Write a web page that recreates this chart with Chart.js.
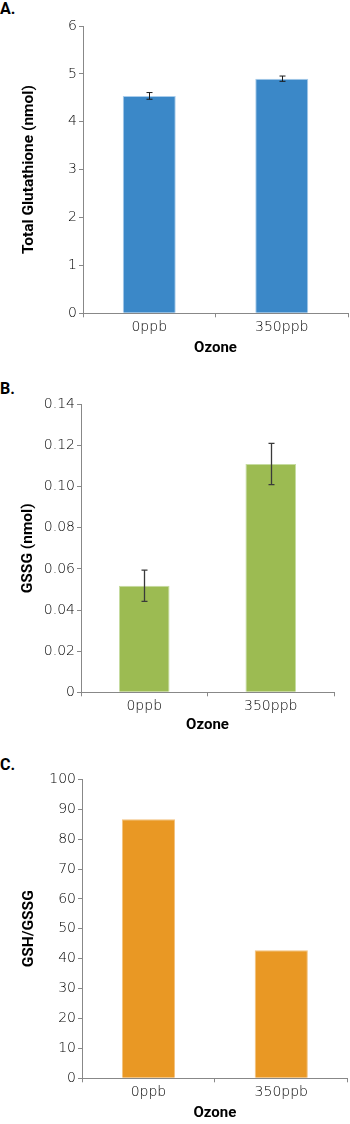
<!DOCTYPE html>
<html>
<head>
<meta charset="utf-8">
<script src="https://cdn.jsdelivr.net/npm/chart.js@4/dist/chart.umd.min.js"></script>
<style>
  html, body { margin: 0; padding: 0; background: #fff; }
  body { width: 350px; height: 1124px; position: relative; overflow: hidden; }
  .panel { position: absolute; left: 0; width: 350px; }
  .lbl { position: absolute; left: 0; font-family: 'Roboto', 'Liberation Sans', sans-serif; font-weight: bold; font-size: 16px; line-height: 17px; color: #000; }
</style>
</head>
<body>
<div class="lbl" style="top:0px">A.</div>
<div class="lbl" style="top:380px">B.</div>
<div class="lbl" style="top:756px">C.</div>
<div class="panel" style="top:0px;height:360px"><canvas id="cA"></canvas></div>
<div class="panel" style="top:360px;height:380px"><canvas id="cB"></canvas></div>
<div class="panel" style="top:740px;height:384px"><canvas id="cC"></canvas></div>
<script>
// ---- data ----
const categories = ['0ppb', '350ppb'];
const xAxisTitle = 'Ozone';

const totalGlutathione = [4.54, 4.90];
const totalGlutathioneErr = [0.07, 0.055];
const ticksA = ['0', '1', '2', '3', '4', '5', '6'];

const gssg = [0.0518, 0.111];
const gssgErr = [0.0076, 0.010];
const ticksB = ['0', '0.02', '0.04', '0.06', '0.08', '0.10', '0.12', '0.14'];

const gshGssgRatio = [86.6, 42.8];
const ticksC = ['0', '10', '20', '30', '40', '50', '60', '70', '80', '90', '100'];

// ---- styling ----
const boldFamily = "'Roboto', 'Liberation Sans', sans-serif";
const tickFamily = "'DejaVu Sans', sans-serif";

const errorBarPlugin = {
  id: 'errorBars',
  afterDatasetsDraw(chart, args, opts) {
    const errs = opts.errors;
    if (!errs) return;
    const ctx = chart.ctx;
    const meta = chart.getDatasetMeta(0);
    const yScale = chart.scales.y;
    const vals = chart.data.datasets[0].data;
    ctx.save();
    ctx.strokeStyle = opts.color || '#222';
    ctx.lineWidth = opts.width || 1;
    meta.data.forEach((bar, i) => {
      const x = Math.round(bar.x) + 0.5;
      const yt = yScale.getPixelForValue(vals[i] + errs[i]);
      const yb = yScale.getPixelForValue(vals[i] - errs[i]);
      const cap = 3;
      ctx.beginPath();
      ctx.moveTo(x, yt); ctx.lineTo(x, yb);
      ctx.moveTo(x - cap, yt); ctx.lineTo(x + cap, yt);
      ctx.moveTo(x - cap, yb); ctx.lineTo(x + cap, yb);
      ctx.stroke();
    });
    ctx.restore();
  }
};

function makeChart(id, p) {
  return new Chart(document.getElementById(id), {
    type: 'bar',
    data: {
      labels: categories,
      datasets: [{
        data: p.values,
        backgroundColor: p.color,
        borderColor: p.border,
        borderWidth: { top: 1, left: 1, right: 1, bottom: 0 },
        borderSkipped: 'bottom',
        categoryPercentage: 1,
        barPercentage: 0.4
      }]
    },
    options: {
      responsive: true,
      maintainAspectRatio: false,
      animation: false,
      events: [],
      layout: { padding: { top: p.top, right: p.right, left: 0, bottom: 0 } },
      plugins: {
        legend: { display: false },
        tooltip: { enabled: false },
        errorBars: { errors: p.errors, color: p.errColor, width: p.errWidth }
      },
      scales: {
        x: {
          grid: { display: true, drawOnChartArea: false, offset: true, tickLength: 4, color: '#888', tickColor: '#888' },
          border: { display: true, color: '#888', width: 1 },
          ticks: { color: '#000', padding: 2, font: { family: tickFamily, size: 14, weight: 300 } },
          title: { display: true, text: xAxisTitle, color: '#000', padding: { top: 0, bottom: p.xTitlePad }, font: { family: boldFamily, size: 15, weight: 'bold' } },
          afterFit(s) { s.height = p.xHeight; }
        },
        y: {
          min: 0,
          max: p.max,
          grid: { display: true, drawOnChartArea: false, tickLength: 4, color: '#888', tickColor: '#888' },
          border: { display: true, color: '#888', width: 1 },
          ticks: {
            stepSize: p.step,
            color: '#000',
            padding: 2,
            font: { family: tickFamily, size: 14, weight: 300 },
            callback: (v, i) => p.tickLabels[i]
          },
          title: { display: true, text: p.yTitle, color: '#000', padding: { top: p.yTitlePad, bottom: 0 }, font: { family: boldFamily, size: 15.5, weight: 'bold' } },
          afterFit(s) { s.width = p.yWidth; }
        }
      }
    },
    plugins: [errorBarPlugin]
  });
}

makeChart('cA', {
  values: totalGlutathione, errors: totalGlutathioneErr, errColor: '#1a1a1a', errWidth: 1,
  color: '#3b88c8', border: '#a9cdec',
  max: 6, step: 1, tickLabels: ticksA, yTitle: 'Total Glutathione (nmol)',
  top: 26, right: 2, yWidth: 83, xHeight: 46.7, xTitlePad: 3, yTitlePad: 20
});

makeChart('cB', {
  values: gssg, errors: gssgErr, errColor: '#3a3a3a', errWidth: 1.3,
  color: '#9cbb52', border: '#c6dca0',
  max: 0.14, step: 0.02, tickLabels: ticksB, yTitle: 'GSSG (nmol)',
  top: 44.3, right: 16, yWidth: 81, xHeight: 47.7, xTitlePad: 6, yTitlePad: 19
});

makeChart('cC', {
  values: gshGssgRatio, errors: null,
  color: '#e99824', border: '#f3c27e',
  max: 100, step: 10, tickLabels: ticksC, yTitle: 'GSH/GSSG',
  top: 39.3, right: 2.3, yWidth: 82, xHeight: 45.7, xTitlePad: 1.7, yTitlePad: 20
});
</script>
</body>
</html>
